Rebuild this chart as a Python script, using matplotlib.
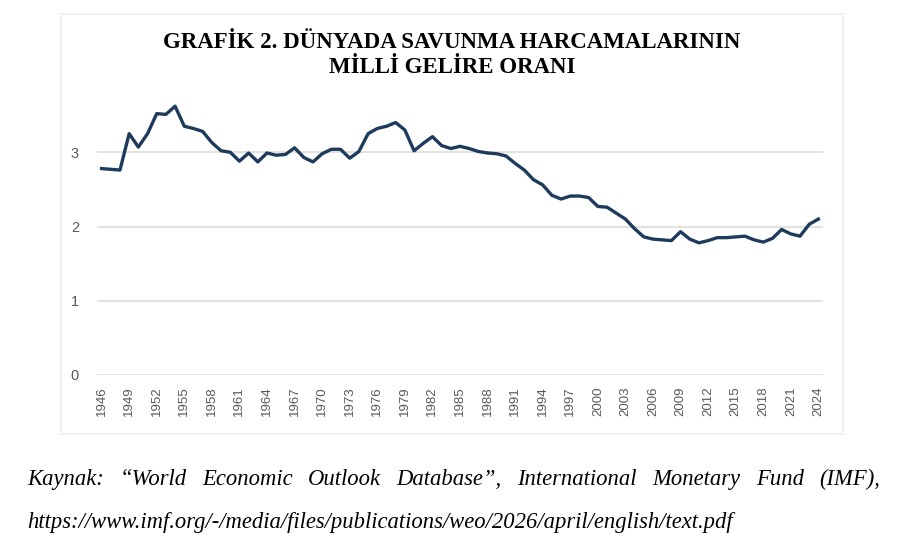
import matplotlib
matplotlib.use('Agg')
import matplotlib.pyplot as plt
from matplotlib.patches import Rectangle

# --- データ ---
years = list(range(1946, 2025))
ratio = [
    2.78, 2.77, 2.76, 3.25, 3.07, 3.25, 3.52, 3.51, 3.62, 3.35,
    3.32, 3.28, 3.13, 3.02, 3.00, 2.88, 2.99, 2.87, 2.99, 2.96,
    2.97, 3.06, 2.93, 2.87, 2.98, 3.04, 3.04, 2.92, 3.01, 3.25,
    3.32, 3.35, 3.40, 3.30, 3.02, 3.12, 3.21, 3.09, 3.05, 3.08,
    3.05, 3.01, 2.99, 2.98, 2.95, 2.85, 2.76, 2.63, 2.56, 2.42,
    2.37, 2.41, 2.41, 2.39, 2.27, 2.26, 2.18, 2.10, 1.97, 1.86,
    1.83, 1.82, 1.81, 1.93, 1.83, 1.78, 1.81, 1.85, 1.85, 1.86,
    1.87, 1.82, 1.79, 1.84, 1.96, 1.90, 1.87, 2.03, 2.10,
]
tick_years = years[::3]
y_ticks = [0, 1, 2, 3]

title = 'GRAFİK 2. DÜNYADA SAVUNMA HARCAMALARININ\nMİLLİ GELİRE ORANI'
source_line1 = 'Kaynak: “World Economic Outlook Database”, International Monetary Fund (IMF),'
source_line2 = 'https://www.imf.org/-/media/files/publications/weo/2026/april/english/text.pdf'

W, H = 900, 556
fig = plt.figure(figsize=(9, 5.56), dpi=100)

# グラフ枠
fig.patches.append(Rectangle((61 / W, 1 - 434 / H), (843 - 61) / W, (434 - 14) / H,
                             transform=fig.transFigure, fill=False,
                             edgecolor='#ececec', linewidth=1.2))

ax = fig.add_axes([97 / W, 1 - 375 / H, 726 / W, (375 - 78) / H])
ax.plot(years, ratio, color='#1e3a5c', linewidth=2.4, solid_joinstyle='round')
ax.set_xlim(1945.5, 2024.5)
ax.set_ylim(0, 4)
ax.set_yticks(y_ticks)
ax.set_xticks(tick_years)
ax.set_xticklabels([str(y) for y in tick_years], rotation=90,
                   fontsize=9.5, color='#595959', family='Liberation Sans')
ax.set_yticklabels([str(v) for v in y_ticks], fontsize=10.5, color='#595959',
                   family='Liberation Sans')
ax.tick_params(axis='both', length=0)
ax.tick_params(axis='x', pad=8)
ax.tick_params(axis='y', pad=13)
ax.grid(axis='y', color='#d9d9d9', linewidth=1.1)
ax.set_axisbelow(True)
for s in ax.spines.values():
    s.set_visible(False)

fig.text(452 / W, 1 - 55 / H, title, ha='center', va='center',
         fontsize=16.5, fontweight='bold', family='Liberation Serif',
         linespacing=1.3)

# --- 出典（両端揃え） ---
renderer = fig.canvas.get_renderer()
words = source_line1.split(' ')
x_left, x_right = 27, 880
objs = []
total = 0
for w in words:
    t = fig.text(0, 1 - 485 / H, w, fontsize=16.3, style='italic',
                 family='Liberation Serif', va='baseline', ha='left')
    wd = t.get_window_extent(renderer).width
    objs.append((t, wd))
    total += wd
gap = (x_right - x_left - total) / (len(words) - 1)
x = x_left
for t, wd in objs:
    t.set_x(x / W)
    x += wd + gap

fig.text(x_left / W, 1 - 528 / H, source_line2, fontsize=16.3, style='italic',
         family='Liberation Serif', va='baseline', ha='left')

fig.savefig('out.png', dpi=100, facecolor='white')
